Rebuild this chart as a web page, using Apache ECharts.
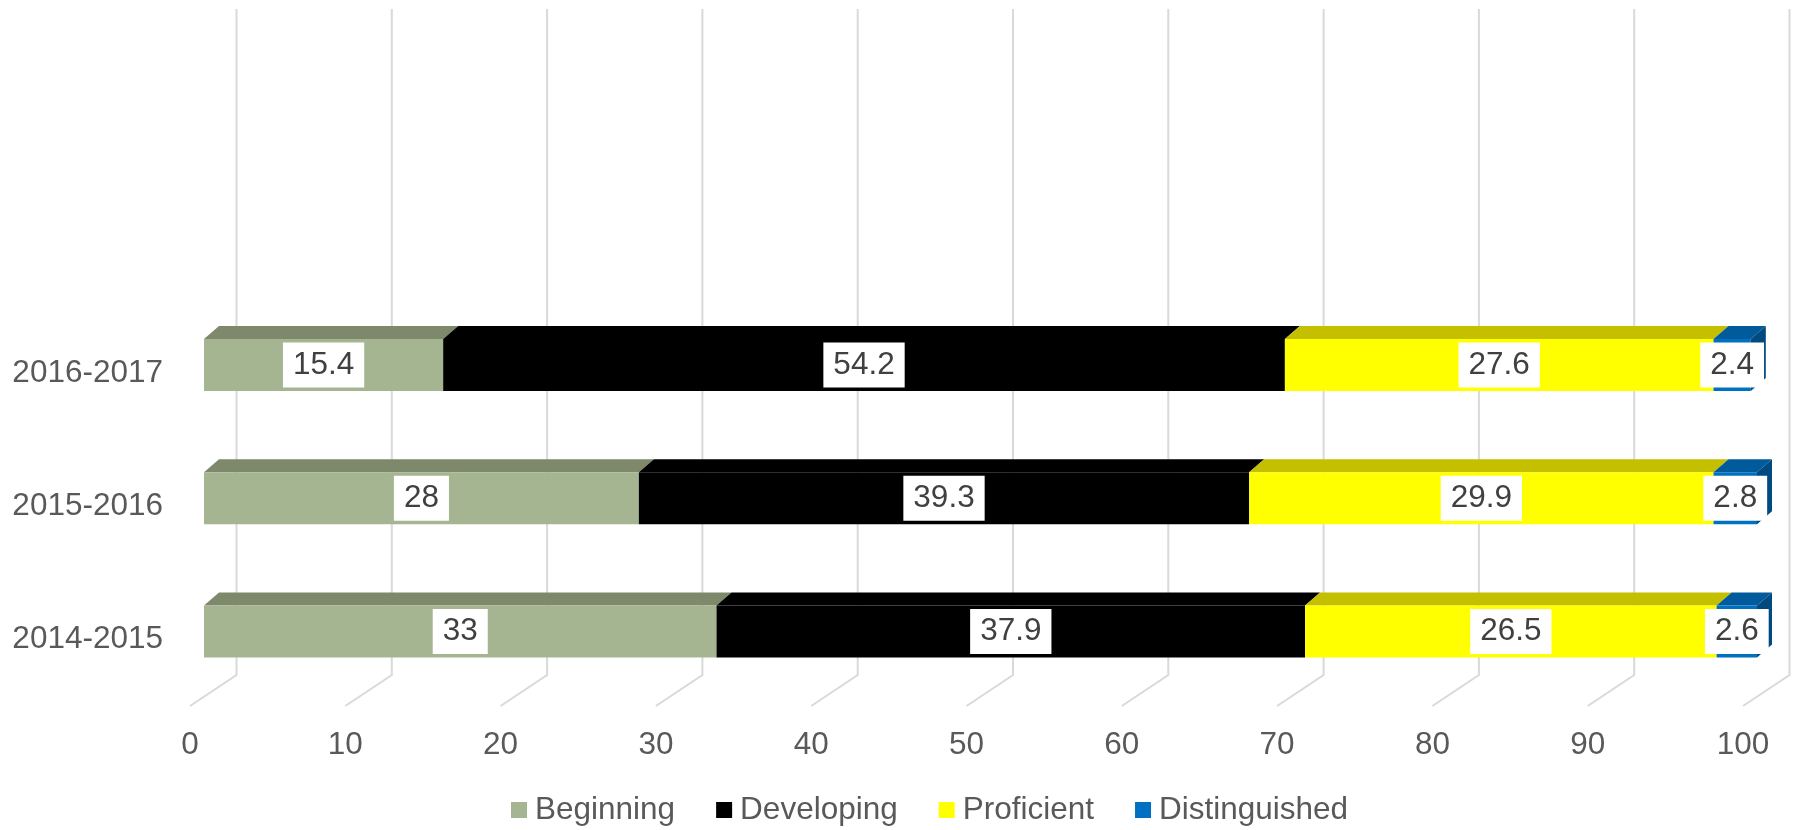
<!DOCTYPE html>
<html><head><meta charset="utf-8">
<script src="https://cdn.jsdelivr.net/npm/echarts@6/dist/echarts.min.js"></script>
<style>html,body{margin:0;padding:0;background:#fff}#c{width:1800px;height:830px}</style>
</head><body><div id="c"></div>
<script>
// ---- data ----
const categories = ['2014-2015', '2015-2016', '2016-2017', '', ''];
const seriesNames = ['Beginning', 'Developing', 'Proficient', 'Distinguished'];
const beginning = [33, 28, 15.4];
const developing = [37.9, 39.3, 54.2];
const proficient = [26.5, 29.9, 27.6];
const distinguished = [2.6, 2.8, 2.4];
const xTicks = [0, 10, 20, 30, 40, 50, 60, 70, 80, 90, 100];

// ---- style ----
const values = [beginning, developing, proficient, distinguished];
const frontColors = ['#A5B592', '#000000', '#FFFF00', '#0070C0'];
const topColors = ['#7E896C', '#000000', '#C4C000', '#005A9C'];
const sideColors = ['#66705A', '#000000', '#A09C00', '#004A80'];
const FF = '"Liberation Sans", Arial, sans-serif';
const FS = 31.5;
const FONT = FS + 'px ' + FF;
const FRONT = [14, -8], BACK = [29, -21], WALL = [46.5, -31], HALF = 26;

function barRender(si) {
  return function (params, api) {
    const cat = api.value(0), s = api.value(1), e = api.value(2), v = api.value(3);
    const p0 = api.coord([s, cat]), p1 = api.coord([e, cat]);
    const fx0 = p0[0] + FRONT[0], fx1 = p1[0] + FRONT[0];
    const cy = p0[1] + FRONT[1];
    const top = cy - HALF, bot = cy + HALF;
    const ddx = BACK[0] - FRONT[0], ddy = BACK[1] - FRONT[1];
    const children = [
      { type: 'polygon', shape: { points: [[fx0, top], [fx1, top], [fx1 + ddx, top + ddy], [fx0 + ddx, top + ddy]] }, style: { fill: topColors[si] } },
      { type: 'rect', shape: { x: fx0, y: top, width: fx1 - fx0, height: bot - top }, style: { fill: frontColors[si] } }
    ];
    if (si === values.length - 1) {
      children.push({ type: 'polygon', shape: { points: [[fx1, top], [fx1 + ddx, top + ddy], [fx1 + ddx, bot + ddy], [fx1, bot]] }, style: { fill: sideColors[si] } });
    }
    children.push({
      type: 'text', z2: 10,
      style: { text: String(v), x: (fx0 + fx1) / 2, y: cy, align: 'center', verticalAlign: 'middle', font: FONT, fill: '#404040', backgroundColor: '#ffffff', padding: [7, 10, 6, 10] }
    });
    return { type: 'group', children: children };
  };
}

const barSeries = seriesNames.map(function (name, si) {
  const data = values[si].map(function (v, ci) {
    let start = 0;
    for (let k = 0; k < si; k++) start += values[k][ci];
    return [ci, start, start + v, v];
  });
  return {
    name: name, type: 'custom', renderItem: barRender(si), data: data,
    encode: { x: [1, 2], y: 0 }, itemStyle: { color: frontColors[si] }, z: 3 + si
  };
});

const gridSeries = {
  type: 'custom', silent: true, z: 1,
  data: xTicks.map(function (t) { return [t, 0]; }),
  encode: { x: 0, y: 1 },
  renderItem: function (params, api) {
    const cs = params.coordSys;
    const x = api.coord([api.value(0), 0])[0];
    const by = cs.y + cs.height;
    return {
      type: 'polyline',
      shape: { points: [[x + WALL[0], cs.y + WALL[1]], [x + WALL[0], by + WALL[1]], [x, by]] },
      style: { stroke: '#D9D9D9', lineWidth: 2, fill: null }
    };
  }
};

const chart = echarts.init(document.getElementById('c'));
chart.setOption({
  animation: false,
  backgroundColor: '#ffffff',
  grid: { left: 190, right: 57, top: 40, bottom: 124 },
  xAxis: {
    type: 'value', min: 0, max: 100, interval: 10,
    axisLine: { show: false }, axisTick: { show: false }, splitLine: { show: false },
    axisLabel: { color: '#595959', fontSize: FS, fontFamily: FF, margin: 23 }
  },
  yAxis: {
    type: 'category', data: categories,
    axisLine: { show: false }, axisTick: { show: false }, splitLine: { show: false },
    axisLabel: { color: '#595959', fontSize: FS, fontFamily: FF, margin: 27 }
  },
  legend: {
    data: seriesNames, left: 511, top: 794, padding: 0,
    icon: 'rect', itemWidth: 16, itemHeight: 16, itemGap: 41,
    textStyle: { color: '#595959', fontSize: FS, fontFamily: FF, padding: [0, 0, 0, 3] }
  },
  series: [gridSeries].concat(barSeries)
});
</script></body></html>
